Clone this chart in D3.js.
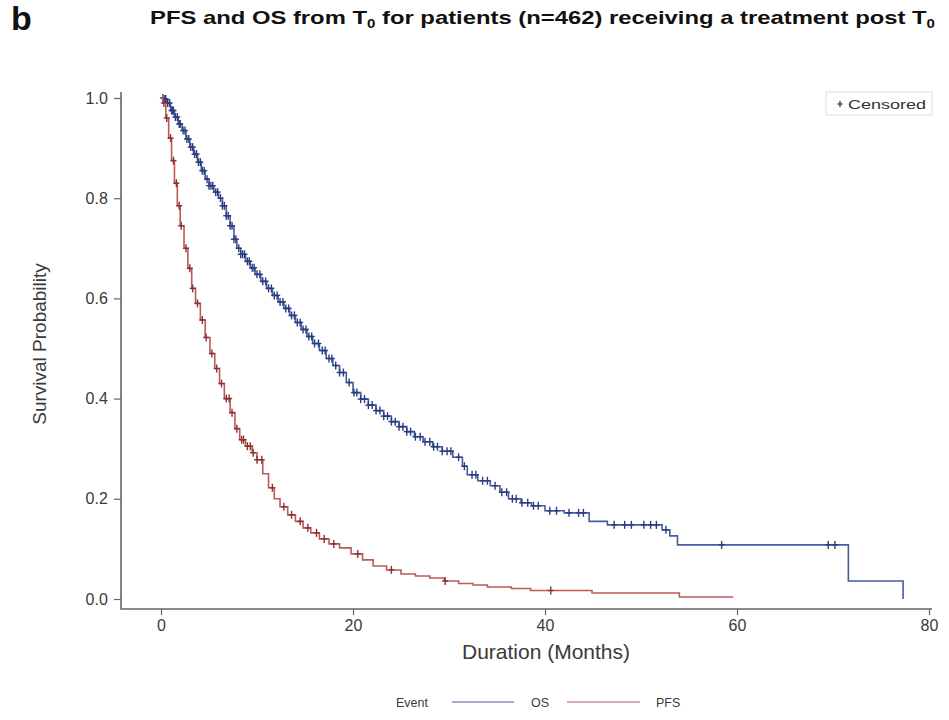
<!DOCTYPE html>
<html>
<head>
<meta charset="utf-8">
<script src="https://cdn.jsdelivr.net/npm/d3@7"></script>
<style>
  body { margin: 0; background: #fff; }
  svg { display: block; font-family: "Liberation Sans", Arial, Helvetica, sans-serif; }
</style>
</head>
<body>
<svg id="chart" width="949" height="720"></svg>
<script>
// Kaplan-Meier step points: time (months) and survival probability
const osTimes = [0, 0.3, 0.6, 1.0, 1.4, 1.8, 2.2, 2.6, 3.0, 3.4, 3.8, 4.2, 4.6, 5.0, 5.5, 6.0, 6.4, 6.8, 7.2, 7.6, 7.9, 8.3, 8.8, 9.3, 9.8, 10.4, 11.0, 11.6, 12.2, 12.8, 13.4, 14.0, 14.6, 15.2, 15.8, 16.5, 17.2, 17.9, 18.6, 19.3, 20.0, 20.8, 21.6, 22.4, 23.2, 24.0, 24.8, 25.6, 26.4, 27.3, 28.3, 29.3, 30.4, 31.4, 31.9, 33.0, 34.3, 35.3, 36.2, 37.5, 38.6, 40.0, 42.0, 44.6, 46.5, 52.2, 53.0, 53.8, 71.6, 77.3];
const osSurv  = [1.0, 0.998, 0.99, 0.975, 0.962, 0.948, 0.935, 0.918, 0.902, 0.888, 0.872, 0.855, 0.838, 0.825, 0.812, 0.800, 0.785, 0.765, 0.745, 0.718, 0.700, 0.688, 0.674, 0.661, 0.648, 0.634, 0.620, 0.606, 0.593, 0.580, 0.566, 0.552, 0.538, 0.524, 0.510, 0.496, 0.480, 0.466, 0.452, 0.432, 0.412, 0.399, 0.387, 0.376, 0.365, 0.354, 0.344, 0.334, 0.324, 0.314, 0.304, 0.295, 0.283, 0.265, 0.248, 0.236, 0.226, 0.213, 0.200, 0.192, 0.186, 0.176, 0.172, 0.155, 0.148, 0.138, 0.126, 0.108, 0.036, 0.0];

const pfsTimes = [0, 0.2, 0.5, 0.8, 1.1, 1.4, 1.7, 2.0, 2.4, 2.8, 3.2, 3.6, 4.1, 4.6, 5.1, 5.6, 6.1, 6.6, 7.2, 7.7, 8.2, 8.8, 9.5, 10.0, 10.6, 11.2, 11.8, 12.4, 13.2, 14.0, 14.8, 15.6, 16.5, 17.5, 18.6, 19.8, 21.0, 22.1, 23.5, 25.0, 26.5, 28.0, 29.5, 31.0, 32.5, 34.0, 36.5, 38.5, 44.9, 54.0, 59.6];
const pfsSurv  = [1.0, 0.99, 0.96, 0.92, 0.875, 0.83, 0.785, 0.745, 0.700, 0.660, 0.620, 0.590, 0.557, 0.522, 0.490, 0.460, 0.430, 0.400, 0.372, 0.340, 0.318, 0.305, 0.292, 0.278, 0.250, 0.222, 0.200, 0.184, 0.168, 0.155, 0.142, 0.132, 0.120, 0.110, 0.102, 0.090, 0.078, 0.066, 0.058, 0.050, 0.046, 0.042, 0.036, 0.031, 0.028, 0.024, 0.021, 0.017, 0.012, 0.004, 0.004];

// Censoring times (months)
const osCensored = [0.2, 0.4, 0.5, 0.7, 0.9, 1.1, 1.2, 1.3, 1.5, 1.7, 1.9, 2.0, 2.3, 2.5, 2.7, 2.9, 3.1, 3.3, 3.5, 3.7, 3.9, 4.1, 4.3, 4.5, 4.8, 5.0, 5.2, 5.4, 5.7, 5.9, 6.2, 6.4, 6.6, 6.8, 7.0, 7.2, 7.4, 7.6, 7.8, 8.1, 8.3, 8.5, 8.7, 9.0, 9.2, 9.5, 9.7, 10.0, 10.3, 10.6, 10.9, 11.2, 11.5, 11.8, 12.1, 12.4, 12.7, 13.0, 13.3, 13.6, 13.9, 14.2, 14.5, 14.8, 15.1, 15.4, 15.7, 16.0, 16.4, 16.8, 17.1, 17.5, 17.8, 18.2, 18.6, 19.0, 19.6, 20.1, 20.4, 20.8, 21.2, 21.6, 22.0, 22.4, 22.8, 23.2, 23.6, 24.0, 24.4, 24.8, 25.2, 25.6, 26.0, 26.5, 27.0, 27.5, 28.0, 28.4, 28.8, 29.3, 29.8, 30.2, 31.0, 31.6, 32.4, 32.8, 33.5, 34.0, 34.8, 35.5, 36.0, 36.6, 37.0, 37.6, 38.2, 38.8, 39.3, 40.5, 41.2, 42.5, 43.5, 44.0, 47.2, 48.3, 49.0, 50.3, 51.0, 51.6, 52.6, 58.4, 69.5, 70.2];
const pfsCensored = [0.3, 0.6, 1.0, 1.3, 1.6, 1.9, 2.1, 2.6, 3.0, 3.3, 3.8, 4.3, 4.7, 5.3, 5.8, 6.3, 6.8, 7.1, 7.4, 7.9, 8.4, 8.6, 9.0, 9.3, 9.6, 10.0, 10.5, 11.6, 12.8, 13.6, 14.5, 15.3, 16.2, 17.0, 18.0, 20.5, 24.0, 29.6, 40.6];

const xTicks = [0, 20, 40, 60, 80];
const yTicks = [0.0, 0.2, 0.4, 0.6, 0.8, 1.0];
const seriesNames = ["OS", "PFS"];

const svg = d3.select("#chart");

const x = d3.scaleLinear().domain([0, 80]).range([161, 929]);
const y = d3.scaleLinear().domain([0, 1]).range([599, 98]);

const axisColor = "#666";
const textColor = "#3a3a3a";
const colors = { OS: "#485c9f", PFS: "#bc5a5a" };
const markColors = { OS: "#2c3c80", PFS: "#8a3232" };

// Panel letter and title
svg.append("text").attr("x", 11).attr("y", 30)
  .attr("font-size", 34).attr("font-weight", "bold").attr("fill", "#111").text("b");

const title = svg.append("text").attr("x", 150).attr("y", 24)
  .attr("font-size", 19).attr("font-weight", "bold").attr("fill", "#111")
  .attr("textLength", 785).attr("lengthAdjust", "spacingAndGlyphs");
title.append("tspan").text("PFS and OS from T");
title.append("tspan").attr("font-size", 12).attr("dy", 4).text("0");
title.append("tspan").attr("dy", -4).text(" for patients (n=462) receiving a treatment post T");
title.append("tspan").attr("font-size", 12).attr("dy", 4).text("0");

// Axes
const xAxis = svg.append("g").attr("transform", "translate(0,609)")
  .call(d3.axisBottom(x).tickValues(xTicks).tickFormat(d3.format("d")).tickSize(6).tickSizeOuter(0));
xAxis.select(".domain").remove();
const yAxis = svg.append("g").attr("transform", "translate(121,0)")
  .call(d3.axisLeft(y).tickValues(yTicks).tickFormat(d3.format(".1f")).tickSize(7).tickSizeOuter(0));
yAxis.select(".domain").remove();

[xAxis, yAxis].forEach(g => {
  g.selectAll(".tick line").attr("stroke", axisColor).attr("stroke-width", 1.2);
  g.selectAll(".tick text").attr("fill", textColor).attr("font-size", 16)
    .attr("font-family", "'Liberation Sans', Arial, sans-serif");
});
xAxis.selectAll(".tick text").attr("y", 8).attr("dy", "0.85em");
yAxis.selectAll(".tick text").attr("dx", "-0.2em");

svg.append("path")
  .attr("d", `M121,92 V609 H932`)
  .attr("fill", "none").attr("stroke", axisColor).attr("stroke-width", 1.6);

// Axis titles
svg.append("text").attr("transform", "translate(46,344) rotate(-90)")
  .attr("text-anchor", "middle").attr("font-size", 19).attr("fill", textColor).text("Survival Probability");
svg.append("text").attr("x", 546).attr("y", 659)
  .attr("text-anchor", "middle").attr("font-size", 21).attr("fill", textColor).text("Duration (Months)");

// Survival curves
const series = [
  { name: "OS", t: osTimes, s: osSurv, c: osCensored },
  { name: "PFS", t: pfsTimes, s: pfsSurv, c: pfsCensored }
];

const line = d3.line().curve(d3.curveStepAfter).x(d => x(d[0])).y(d => y(d[1]));

series.forEach(se => {
  const pts = se.t.map((t, i) => [t, se.s[i]]);
  svg.append("path").datum(pts)
    .attr("d", line).attr("fill", "none")
    .attr("stroke", colors[se.name]).attr("stroke-width", 1.6);

  // survival at a censoring time, read from the step function
  const bis = d3.bisector(d => d).right;
  const survAt = t => se.s[Math.max(0, bis(se.t, t) - 1)];

  const marks = svg.append("g").attr("stroke", markColors[se.name]).attr("stroke-width", 1.4);
  se.c.forEach(t => {
    const cx = x(t), cy = y(survAt(t));
    marks.append("line").attr("x1", cx).attr("x2", cx).attr("y1", cy - 4).attr("y2", cy + 4);
    marks.append("line").attr("x1", cx - 3).attr("x2", cx + 3).attr("y1", cy).attr("y2", cy);
  });
});

// Censored legend (top right)
const cl = svg.append("g");
cl.append("rect").attr("x", 826).attr("y", 92).attr("width", 106).attr("height", 23)
  .attr("fill", "#fff").attr("stroke", "#ddd").attr("stroke-width", 1);
cl.append("line").attr("x1", 840).attr("x2", 840).attr("y1", 101).attr("y2", 107).attr("stroke", "#333").attr("stroke-width", 1.3);
cl.append("line").attr("x1", 837.5).attr("x2", 842.5).attr("y1", 104).attr("y2", 104).attr("stroke", "#333").attr("stroke-width", 1.3);
cl.append("text").attr("x", 848).attr("y", 108.5).attr("font-size", 13).attr("fill", "#333")
  .attr("textLength", 78).attr("lengthAdjust", "spacingAndGlyphs").text("Censored");

// Event legend (bottom)
const el = svg.append("g").attr("font-size", 12.5).attr("fill", textColor);
el.append("text").attr("x", 396).attr("y", 707).text("Event");
const legendItems = [
  { name: seriesNames[0], x1: 452, x2: 514, tx: 531 },
  { name: seriesNames[1], x1: 567, x2: 640, tx: 656 }
];
legendItems.forEach(d => {
  el.append("line").attr("x1", d.x1).attr("x2", d.x2).attr("y1", 702).attr("y2", 702)
    .attr("stroke", colors[d.name]).attr("stroke-width", 1.2);
  el.append("text").attr("x", d.tx).attr("y", 707).text(d.name);
});
</script>
</body>
</html>
